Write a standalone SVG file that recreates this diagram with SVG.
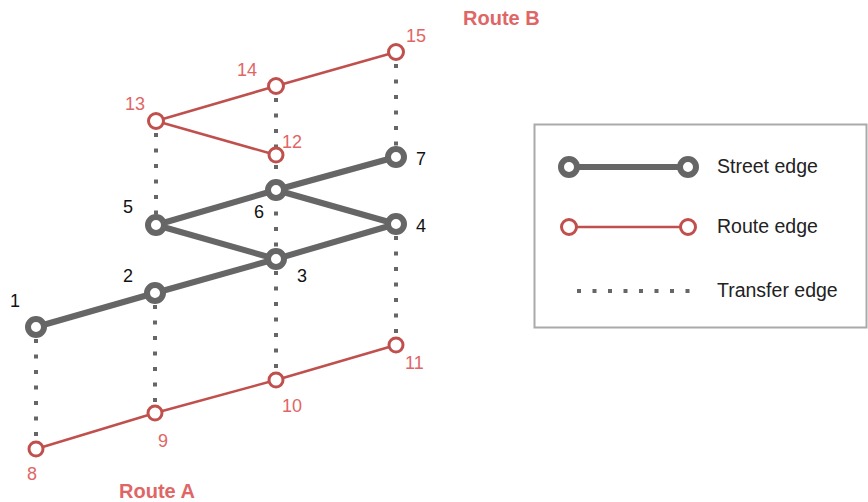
<svg xmlns="http://www.w3.org/2000/svg" width="868" height="502" viewBox="0 0 868 502">
<style>
.street{stroke:#666;stroke-width:6;fill:none;stroke-linecap:round}
.route{stroke:#c0504d;stroke-width:2.5;fill:none}
.transfer{stroke:#666;stroke-width:4;fill:none;stroke-dasharray:4 11.5}
.sn{fill:#fff;stroke:#666;stroke-width:6}
.rn{fill:#fff;stroke:#c0504d;stroke-width:3}
.lb{font-family:"Liberation Sans",Arial,sans-serif;font-size:18px;fill:#111}
.rl{font-family:"Liberation Sans",Arial,sans-serif;font-size:18px;fill:#e06666}
.rt{font-family:"Liberation Sans",Arial,sans-serif;font-size:20px;font-weight:bold;fill:#e06666}
.lg{font-family:"Liberation Sans",Arial,sans-serif;font-size:19.5px;fill:#222}
</style>
<rect x="0" y="0" width="868" height="502" fill="#fff"/>
<g id="connectors">
<line class="transfer" x1="36" y1="339" x2="36" y2="441"/>
<line class="transfer" x1="155" y1="305" x2="155" y2="405"/>
<line class="transfer" x1="276" y1="271" x2="276" y2="372"/>
<line class="transfer" x1="396" y1="236" x2="396" y2="337"/>
<line class="transfer" x1="156" y1="133" x2="156" y2="225"/>
<line class="transfer" x1="276" y1="98" x2="276" y2="148"/>
<line class="transfer" x1="276" y1="165" x2="276" y2="259"/>
<line class="transfer" x1="396" y1="64" x2="396" y2="157"/>
<line class="street" x1="36" y1="327" x2="155" y2="293"/>
<line class="street" x1="155" y1="293" x2="276" y2="259"/>
<line class="street" x1="276" y1="259" x2="396" y2="224"/>
<line class="street" x1="156" y1="225" x2="276" y2="259"/>
<line class="street" x1="156" y1="225" x2="276" y2="190"/>
<line class="street" x1="276" y1="190" x2="396" y2="157"/>
<line class="street" x1="276" y1="190" x2="396" y2="224"/>
<line class="route" x1="36" y1="449" x2="155" y2="413"/>
<line class="route" x1="155" y1="413" x2="276" y2="380"/>
<line class="route" x1="276" y1="380" x2="396" y2="345"/>
<line class="route" x1="156" y1="121" x2="276" y2="86"/>
<line class="route" x1="276" y1="86" x2="396" y2="52"/>
<line class="route" x1="156" y1="121" x2="276" y2="155"/>
</g>
<g id="n1"><circle class="sn" cx="36" cy="327" r="8"/><text class="lb" x="10" y="307">1</text></g>
<g id="n2"><circle class="sn" cx="155" cy="293" r="8"/><text class="lb" x="123" y="282">2</text></g>
<g id="n3"><circle class="sn" cx="276" cy="259" r="8"/><text class="lb" x="297" y="282">3</text></g>
<g id="n4"><circle class="sn" cx="396" cy="224" r="8"/><text class="lb" x="416" y="232">4</text></g>
<g id="n5"><circle class="sn" cx="156" cy="225" r="8"/><text class="lb" x="123" y="213">5</text></g>
<g id="n6"><circle class="sn" cx="276" cy="190" r="8"/><text class="lb" x="254" y="218">6</text></g>
<g id="n7"><circle class="sn" cx="396" cy="157" r="8"/><text class="lb" x="416" y="165">7</text></g>
<g id="n8"><circle class="rn" cx="36" cy="449" r="7"/><text class="rl" x="27" y="480">8</text></g>
<g id="n9"><circle class="rn" cx="155" cy="413" r="7"/><text class="rl" x="158" y="447">9</text></g>
<g id="n10"><circle class="rn" cx="276" cy="380" r="7"/><text class="rl" x="282" y="412">10</text></g>
<g id="n11"><circle class="rn" cx="396" cy="345" r="7"/><text class="rl" x="405" y="369">11</text></g>
<g id="n12"><circle class="rn" cx="276" cy="155" r="7"/><text class="rl" x="282" y="148">12</text></g>
<g id="n13"><circle class="rn" cx="156" cy="121" r="7.5"/><text class="rl" x="125" y="110">13</text></g>
<g id="n14"><circle class="rn" cx="276" cy="86" r="7.5"/><text class="rl" x="237" y="76">14</text></g>
<g id="n15"><circle class="rn" cx="396" cy="52" r="7.5"/><text class="rl" x="406" y="42">15</text></g>
<text class="rt" x="463" y="25">Route B</text>
<text class="rt" x="119" y="498">Route A</text>
<g id="legend">
<rect x="534.5" y="124.5" width="332" height="203" fill="#fff" stroke="#aaa" stroke-width="2"/>
<line class="street" x1="569" y1="167" x2="688" y2="167"/>
<circle class="sn" cx="569" cy="167" r="8"/>
<circle class="sn" cx="688" cy="167" r="8"/>
<text class="lg" x="717" y="173">Street edge</text>
<line class="route" x1="569" y1="227" x2="688" y2="227"/>
<circle class="rn" cx="569" cy="227" r="7.5"/>
<circle class="rn" cx="688" cy="227" r="7.5"/>
<text class="lg" x="717" y="233">Route edge</text>
<line class="transfer" x1="577" y1="291" x2="690" y2="291"/>
<text class="lg" x="717" y="297">Transfer edge</text>
</g>
</svg>
